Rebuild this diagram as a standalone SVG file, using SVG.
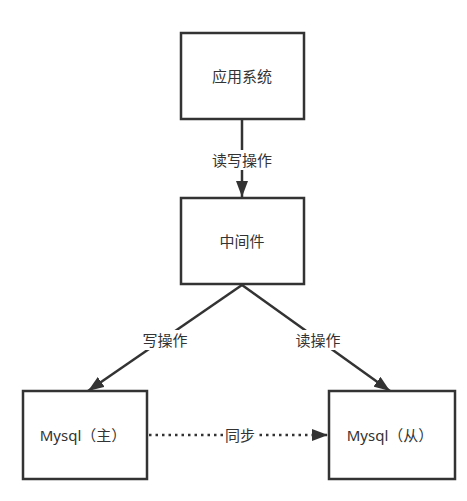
<svg xmlns="http://www.w3.org/2000/svg" width="467" height="501" viewBox="0 0 467 501">
<style>
.box{fill:#ffffff;stroke:#333333;stroke-width:2.5}
.t{font-family:"Noto Sans","Noto Sans CJK SC",sans-serif;font-size:15px;fill:#333333;text-anchor:middle;dominant-baseline:central}
.ln{fill:none;stroke:#333333;stroke-width:2.5}
.lbl{fill:#ffffff}
</style>
<defs>
<marker id="ah" markerWidth="16" markerHeight="12" refX="16" refY="6" orient="auto" markerUnits="userSpaceOnUse">
<path d="M0,0 L16,6 L0,12 Z" fill="#333333"/>
</marker>
</defs>
<rect width="467" height="501" fill="#ffffff"/>
<g id="connectors">
<line class="ln" x1="242" y1="120" x2="242" y2="197" marker-end="url(#ah)"/>
<line class="ln" x1="242" y1="285" x2="88" y2="391" marker-end="url(#ah)"/>
<line class="ln" x1="242" y1="285" x2="390" y2="391" marker-end="url(#ah)"/>
<line class="ln" x1="149" y1="435" x2="328" y2="435" stroke-dasharray="2.5 4" marker-end="url(#ah)"/>
<rect class="lbl" x="210" y="150" width="64" height="20"/>
<text class="t" x="242" y="160">读写操作</text>
<rect class="lbl" x="140" y="330" width="50" height="20"/>
<text class="t" x="165" y="340">写操作</text>
<rect class="lbl" x="293" y="330" width="50" height="20"/>
<text class="t" x="318" y="340">读操作</text>
<rect class="lbl" x="224" y="425" width="32" height="20"/>
<text class="t" x="240" y="435">同步</text>
</g>
<g id="app">
<rect class="box" x="181" y="33" width="123" height="86"/>
<text class="t" x="242" y="76">应用系统</text>
</g>
<g id="middleware">
<rect class="box" x="181" y="198" width="123" height="86"/>
<text class="t" x="242" y="241">中间件</text>
</g>
<g id="master">
<rect class="box" x="23" y="391" width="124" height="88"/>
<text class="t" x="83" y="435">Mysql（主）</text>
</g>
<g id="slave">
<rect class="box" x="329" y="391" width="126" height="88"/>
<text class="t" x="390" y="435">Mysql（从）</text>
</g>
</svg>
